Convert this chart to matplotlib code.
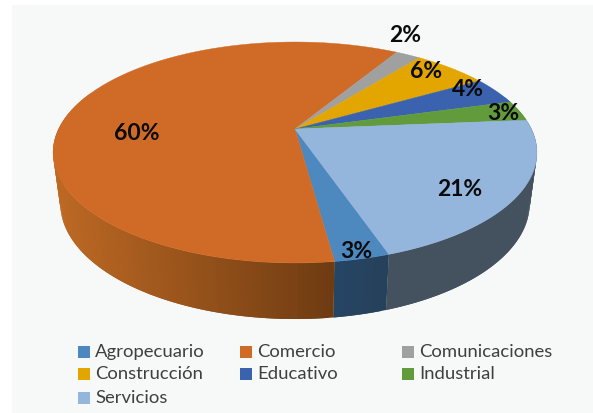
import numpy as np
import matplotlib
matplotlib.use('Agg')
import matplotlib.pyplot as plt
from matplotlib.patches import Polygon, Rectangle

sectores = ['Agropecuario', 'Comercio', 'Comunicaciones', 'Construcción',
            'Educativo', 'Industrial', 'Servicios']
porcentajes = [3, 60, 2, 6, 4, 3, 21]
colores = ['#4D88BE', '#CF6B26', '#A0A0A0', '#E3A600', '#3A62AE', '#629B3C', '#94B5DC']

plt.rcParams['font.family'] = ['Lato', 'DejaVu Sans']

CX, CY = 295, 129
RX, RY, K = 236.4, 105.5, 0.2127
INICIO = -18.5


def punto(theta):
    # angulo en grados, horario desde abajo, con perspectiva
    t = np.radians(theta)
    c, s = -np.sin(t), -np.cos(t)
    f = 1 + K * s
    return CX + RX * c / f, CY - RY * s / f


def punto_base(theta):
    x, y = punto(theta)
    return CX + (x - CX) * 0.97, y + 50 + 0.045 * (y - CY)


def color_lateral(i, x):
    if i == 1:  # comercio, degradado
        f = np.clip((x - 55) / (335 - 55), 0, 1)
        return tuple((1 - f) * np.array([0.74, 0.41, 0.14]) + f * np.array([0.43, 0.23, 0.07]))
    if i == 0:
        f = np.clip((x - 335) / 58, 0, 1)
        return tuple((1 - f) * np.array([0.15, 0.27, 0.39]) + f * np.array([0.15, 0.25, 0.35]))
    if i == 6:
        return '#44515E'
    return colores[i]


fig = plt.figure(figsize=(5.93, 4.13), dpi=100, facecolor='white')
ax = fig.add_axes([0, 0, 1, 1])
ax.set_xlim(0, 593)
ax.set_ylim(413, 0)
ax.axis('off')
ax.add_patch(Rectangle((12, 5), 581, 408, facecolor='#F7F8F8', edgecolor='none', zorder=0))

escala = 360 / sum(porcentajes)
bordes = INICIO + np.cumsum([0] + porcentajes) * escala

# lateral del disco
for i, valor in enumerate(porcentajes):
    a, b = bordes[i], bordes[i + 1]
    for t in np.arange(a, b, 1.0):
        # cada tira pisa la siguiente para que no se vean costuras
        t2 = min(t + 2.0, b)
        if -110 < t < 110 or -110 < t - 360 < 110:
            x1, y1 = punto(t)
            x2, y2 = punto(t2)
            x3, y3 = punto_base(t2)
            x4, y4 = punto_base(t)
            col = color_lateral(i, (x1 + x2) / 2)
            ax.add_patch(Polygon([(x1, y1), (x2, y2), (x3, y3), (x4, y4)],
                                 facecolor=col, edgecolor='none', zorder=2))

# cara superior
for i, valor in enumerate(porcentajes):
    ts = np.linspace(bordes[i], bordes[i + 1], 80)
    xs, ys = punto(ts)
    pts = [(CX, CY)] + list(zip(xs, ys))
    ax.add_patch(Polygon(pts, facecolor=colores[i], edgecolor=colores[i], lw=0.3, zorder=3))

# etiquetas
etiquetas = ['3%', '60%', '2%', '6%', '4%', '3%', '21%']
pos_etq = [(356, 252), (137, 133), (405, 35), (426, 72), (468, 90), (503, 113), (460, 189)]
for txt, (x, y) in zip(etiquetas, pos_etq):
    ax.text(x, y, txt, fontsize=16.5, fontweight='bold', color='#0B0B0B',
            ha='center', va='center', zorder=5)

# leyenda
col_x = [78, 240, 402]
fil_y = [352, 374, 398]
for i, nombre in enumerate(sectores):
    x = col_x[i % 3]
    y = fil_y[i // 3]
    ax.add_patch(Rectangle((x, y - 6), 12, 12, facecolor=colores[i], edgecolor='none', zorder=4))
    ax.text(x + 17, y, nombre, fontsize=13.3, color='#3F3F3F', ha='left', va='center', zorder=5)

fig.savefig('out.png', dpi=100)
